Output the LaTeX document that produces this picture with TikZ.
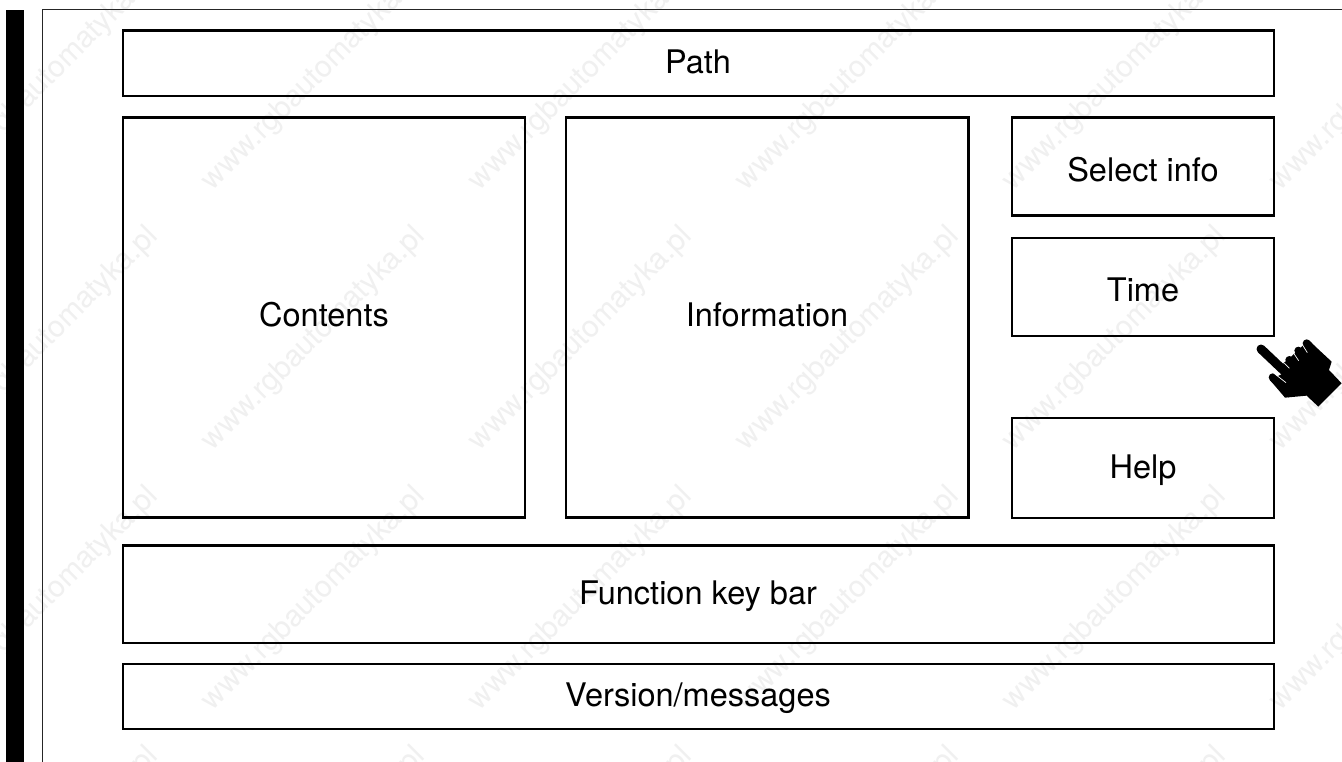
\documentclass[tikz,border=0pt]{standalone}
\usepackage{fontspec}
\setmainfont{TeX Gyre Heros}
\tikzset{
  panel/.style={draw=black,line width=2.3pt,line join=miter,inner sep=0pt,outer sep=0pt,fill=none},
  lbl/.style={anchor=base,inner sep=0pt,text=black,font=\fontsize{32.5}{36}\selectfont},
  wmark/.style={rotate=45,inner sep=0pt,text=black!6,font=\fontsize{30}{34}\selectfont},
  finger/.style={line width=9pt,line cap=round,draw=black},
  sep/.style={draw=white,line width=0.7pt}
}
\begin{document}
\begin{tikzpicture}[x=1pt,y=-1pt]
\useasboundingbox (0,0) rectangle (1342,762);
\fill[white] (0,0) rectangle (1342,762);
% watermark
\begin{scope}
\clip (0,0) rectangle (1342,762);
\foreach \k in {-1,...,5}{
  \foreach \j in {0,...,3}{
    \node[wmark] (wm\k\j) at ({47+267*\k},{79+260*\j}) {www.rgbautomatyka.pl};
  }
}
\end{scope}
% page edge
\fill[black] (6,10) rectangle (24,762);
\coordinate (fa) at (42,762);
\coordinate (fb) at (42,10);
\coordinate (fc) at (1342,10);
\draw[line width=1pt,black!85] (fa) -- (fb) -- (fc);
% panels
\node[panel,minimum width=1151pt,minimum height=65.5pt] (path) at (698.2,63.3) {};
\node[panel,minimum width=402.5pt,minimum height=400pt] (contents) at (324,317.5) {};
\node[panel,minimum width=402.5pt,minimum height=400pt] (information) at (767.3,317.5) {};
\node[panel,minimum width=262pt,minimum height=98pt] (select) at (1143,166.5) {};
\node[panel,minimum width=262pt,minimum height=98pt] (time) at (1143,286.8) {};
\node[panel,minimum width=262pt,minimum height=100pt] (help) at (1143,467.8) {};
\node[panel,minimum width=1151pt,minimum height=97.5pt] (fkey) at (698.2,594.2) {};
\node[panel,minimum width=1151pt,minimum height=65pt] (version) at (698.2,696.8) {};
% labels
\node[lbl] (lpath) at (698,74) {Path};
\node[lbl] (lcontents) at (324,326) {Contents};
\node[lbl] (linfo) at (767,326) {Information};
\node[lbl] (lselect) at (1143,182) {Select info};
\node[lbl] (ltime) at (1143,301.5) {Time};
\node[lbl] (lhelp) at (1143,478) {Help};
\node[lbl] (lfkey) at (698,604) {Function key bar};
\node[lbl] (lversion) at (698,706.5) {Version/messages};
% hand
\begin{scope}[shift={(1250,330)},x=0.3333pt,y=-0.3333pt]
  \fill[black,line join=round] (100,100)--(118,85)--(145,60)--(175,30)--(245,95)--(237,120)--(275,160)--(205,230)--(170,197)--(105,203)--(60,150)--(100,130)--cycle;
  \draw[finger] (33,57)--(110,130);
  \draw[finger,line width=8pt] (118,90)--(150,125);
  \draw[finger,line width=8pt] (145,62)--(180,100);
  \draw[finger,line width=8pt] (170,40)--(220,95);
  \draw[finger,line width=8pt] (68,142)--(115,190);
  \draw[sep] (72,130)--(108,158);
  \draw[sep] (103,100)--(118,115);
  \draw[sep] (130,68)--(146,92);
  \draw[sep] (157,44)--(172,68);
\end{scope}
\end{tikzpicture}
\end{document}
